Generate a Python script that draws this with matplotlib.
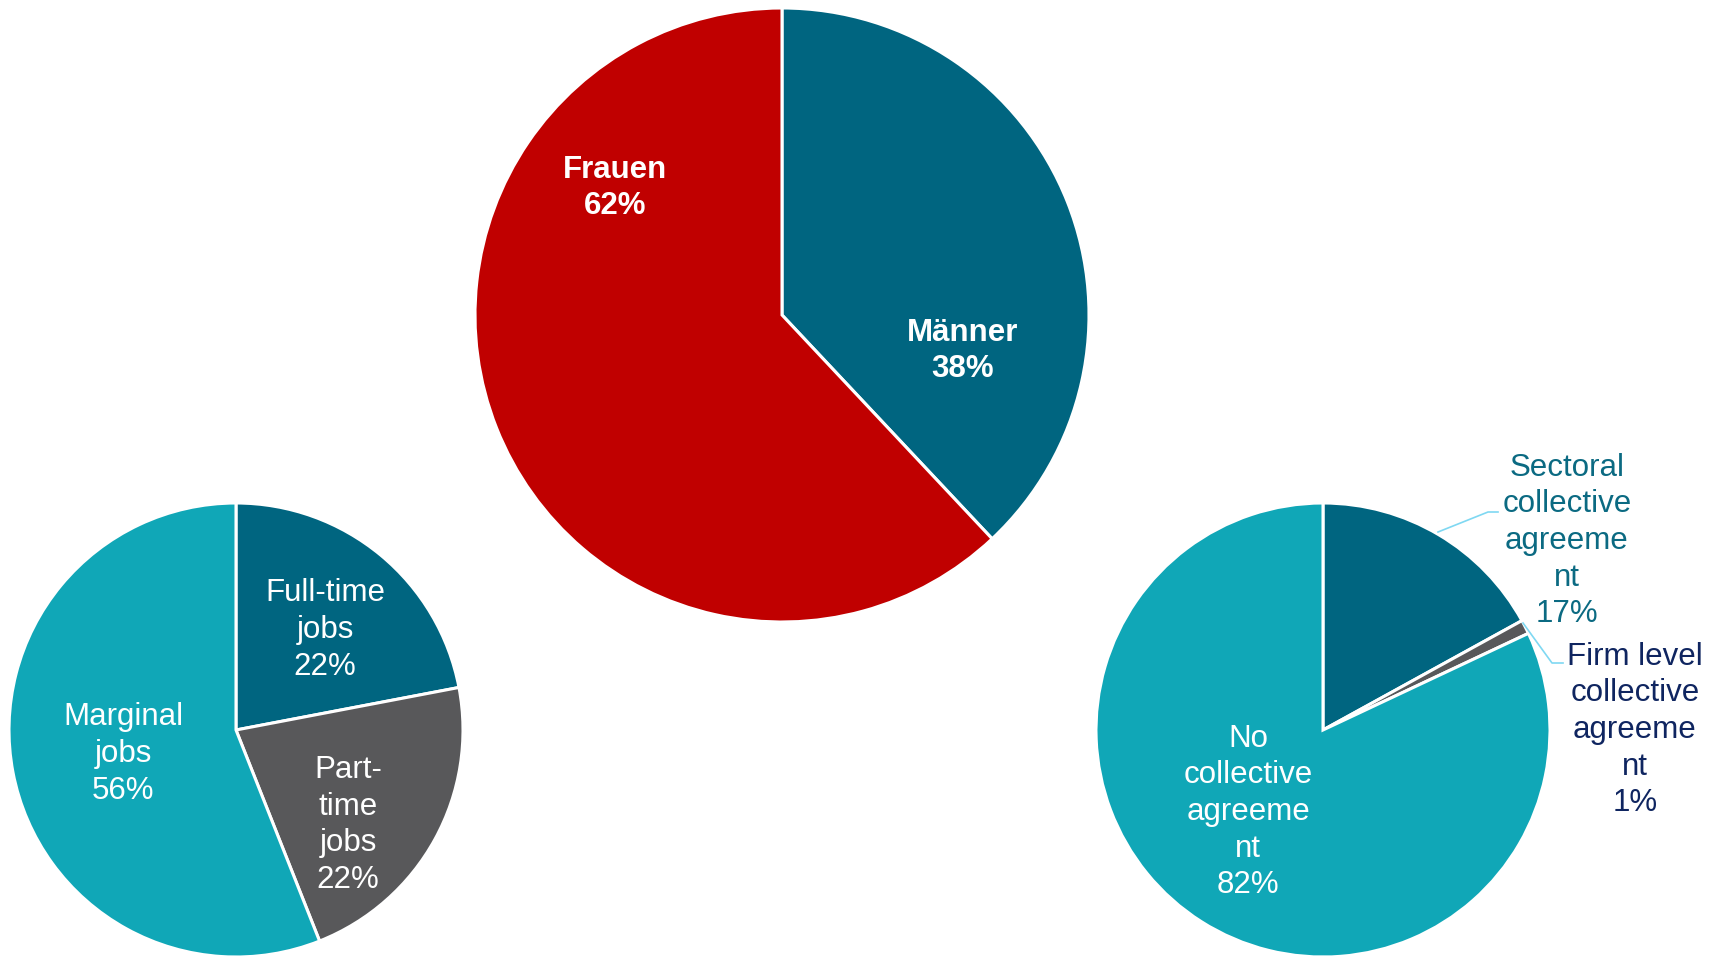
import matplotlib
matplotlib.use("Agg")
import matplotlib.pyplot as plt

# ---- data ----
gender_labels = ["Männer", "Frauen"]
gender_values = [38, 62]

job_labels = ["Full-time\njobs", "Part-\ntime\njobs", "Marginal\njobs"]
job_values = [22, 22, 56]

ca_labels = ["Sectoral\ncollective\nagreeme\nnt", "Firm level\ncollective\nagreeme\nnt",
             "No\ncollective\nagreeme\nnt"]
ca_values = [17, 1, 82]

# ---- style ----
DARK = "#006580"
RED = "#C00000"
GRAY = "#58585A"
LIGHT = "#10A7B7"
W, H = 1721, 956

plt.rcParams['font.family'] = ['Liberation Sans', 'DejaVu Sans']
fig = plt.figure(figsize=(W / 100, H / 100), dpi=100)
ax = fig.add_axes([0, 0, 1, 1])

wp = dict(edgecolor="white", linewidth=2.2)


def Y(y):
    return H - y


# middle pie
ax.pie(gender_values, colors=[DARK, RED], startangle=90, counterclock=False,
       center=(782, Y(315)), radius=307, wedgeprops=wp)
# left pie
ax.pie(job_values, colors=[DARK, GRAY, LIGHT], startangle=90, counterclock=False,
       center=(236, Y(730)), radius=227, wedgeprops=wp)
# right pie
ax.pie(ca_values, colors=[DARK, GRAY, LIGHT], startangle=90, counterclock=False,
       center=(1323, Y(730)), radius=227, wedgeprops=wp)

ax.set_xlim(0, W)
ax.set_ylim(0, H)
ax.set_aspect('equal')
ax.axis('off')

FS = 22.5
LS = 1.29
# middle labels
mid_pos = [(963, 351), (615, 188)]
for lab, v, (x, y) in zip(gender_labels, gender_values, mid_pos):
    ax.text(x, Y(y), f"{lab}\n{v}%", color="white", fontsize=FS, fontweight="bold",
            ha="center", va="center", linespacing=LS)

# left labels
job_pos = [(325, 630), (348, 825), (123, 754)]
for lab, v, (x, y) in zip(job_labels, job_values, job_pos):
    ax.text(x, Y(y), f"{lab}\n{v}%", color="white", fontsize=FS,
            ha="center", va="center", linespacing=LS)

# right labels
ca_pos = [(1567, 541), (1635, 730), (1248, 812)]
ca_colors = ["#0B6A82", "#0F2560", "white"]
for lab, v, (x, y), c in zip(ca_labels, ca_values, ca_pos, ca_colors):
    ax.text(x, Y(y), f"{lab}\n{v}%", color=c, fontsize=FS,
            ha="center", va="center", linespacing=LS)

# leader lines
LEAD = "#7FD8F2"
ax.plot([1438, 1488, 1498], [Y(532), Y(512), Y(512)], color=LEAD, lw=1.2)
ax.plot([1523, 1552, 1563], [Y(623), Y(663), Y(663)], color=LEAD, lw=1.2)

fig.savefig("out.png", dpi=100)
